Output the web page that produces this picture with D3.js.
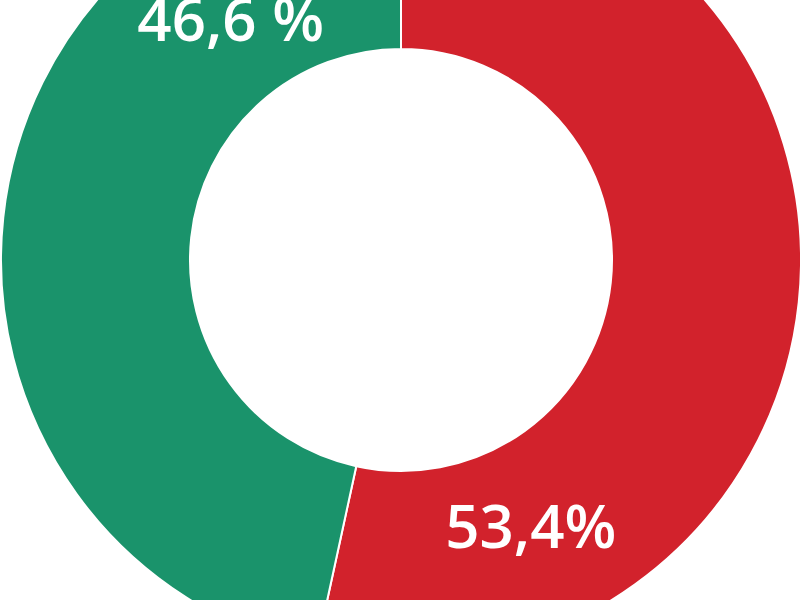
<!DOCTYPE html>
<html><head><meta charset="utf-8">
<script src="https://cdn.jsdelivr.net/npm/d3@7"></script>
<style>html,body{margin:0;padding:0;background:#fff;overflow:hidden}</style>
</head><body>
<svg id="c" width="800" height="600"></svg>
<script>
const categories = ["Rot", "Grün"];
const values = [53.4, 46.6];
const labels = ["53,4%", "46,6 %"];
const colors = ["#d2222c", "#1a936b"];

const svg = d3.select("#c");
const cx = 401, cy = 260, rOuter = 400, rInner = 211;
const g = svg.append("g").attr("transform", `translate(${cx},${cy})`);

const pie = d3.pie().sort(null).value(d => d.v);
const arcs = pie(categories.map((c, i) => ({c, v: values[i], l: labels[i], col: colors[i]})));
const arc = d3.arc().innerRadius(rInner).outerRadius(rOuter);

g.selectAll("path").data(arcs).join("path")
  .attr("d", arc)
  .attr("fill", d => d.data.col)
  .attr("stroke", "#fff")
  .attr("stroke-width", 2);

// label placement: angle and radius
const labelPos = [{a: 154.1, r: 297}, {a: -35.4, r: 294}];
g.selectAll("text").data(arcs).join("text")
  .attr("transform", (d, i) => {
    const p = d3.pointRadial(labelPos[i].a * Math.PI / 180, labelPos[i].r);
    return `translate(${p[0]},${p[1]})`;
  })
  .attr("text-anchor", "middle")
  .attr("dy", "0.35em")
  .attr("fill", "#fff")
  .attr("font-family", "'Open Sans', sans-serif")
  .attr("font-weight", 600)
  .attr("font-size", 60)
  .text(d => d.data.l);
</script>
</body></html>
